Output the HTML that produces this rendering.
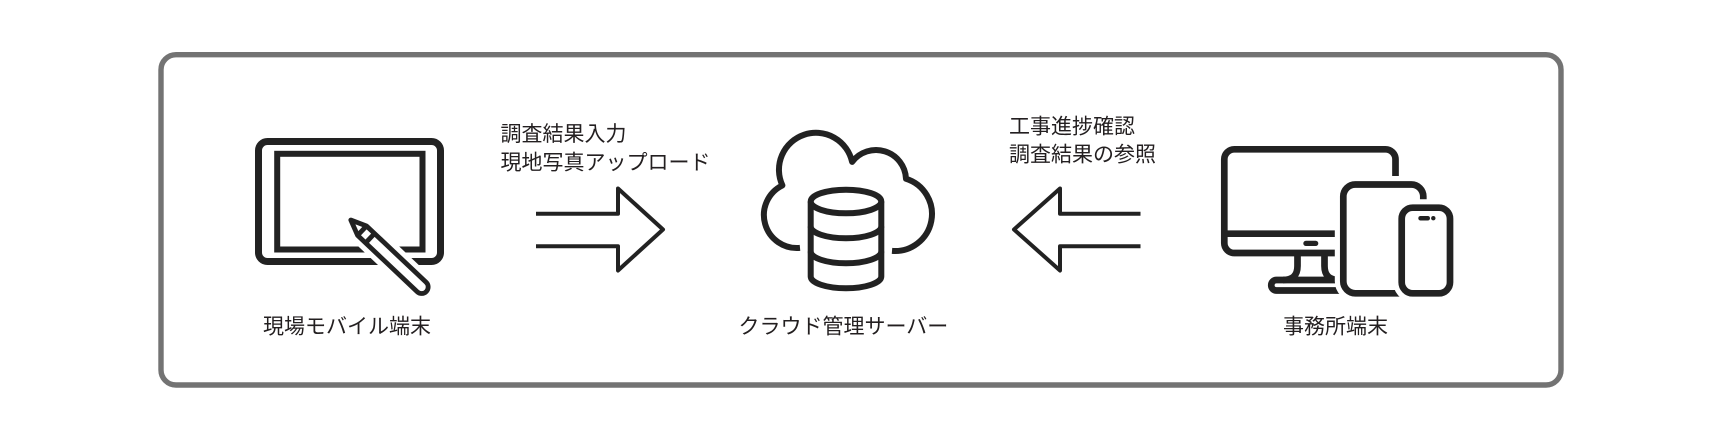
<!DOCTYPE html>
<html>
<head>
<meta charset="utf-8">
<style>
  html, body { margin: 0; padding: 0; background: #ffffff; }
  body { width: 1722px; height: 440px; overflow: hidden; }
  svg { display: block; }
  text { font-family: "Liberation Sans", "Noto Sans CJK JP", sans-serif; font-size: 21px; fill: #231f20; }
</style>
</head>
<body>
<svg width="1722" height="440" viewBox="0 0 1722 440" xmlns="http://www.w3.org/2000/svg">
  <rect x="0" y="0" width="1722" height="440" fill="#ffffff"/>

  <!-- outer frame -->
  <rect x="161" y="54.7" width="1400" height="330.3" rx="15" ry="15" fill="none" stroke="#737373" stroke-width="5.4"/>

  <!-- ===== Mobile tablet with pen ===== -->
  <g fill="none" stroke="#222" stroke-linecap="butt">
    <rect x="258.5" y="141.5" width="182" height="120" rx="9" ry="9" stroke-width="7"/>
    <rect x="277.2" y="153.8" width="145.3" height="95.7" stroke-width="6" stroke-linejoin="miter"/>
  </g>
  <g transform="translate(349,218.3) rotate(43.4)">
    <!-- white halo -->
    <path d="M2.5 0 L18 -6.5 L100 -6.5 A6.5 6.5 0 0 1 100 6.5 L18 6.5 Z" fill="#fff" stroke="#fff" stroke-width="15" stroke-linejoin="round"/>
    <path d="M2.5 0 L18 -6.5 L100 -6.5 A6.5 6.5 0 0 1 100 6.5 L18 6.5 Z" fill="#fff" stroke="#222" stroke-width="4.8" stroke-linejoin="round"/>
    <line x1="18" y1="-6.5" x2="18" y2="6.5" stroke="#222" stroke-width="4.8"/>
    <line x1="29" y1="-6.5" x2="29" y2="6.5" stroke="#222" stroke-width="4.8"/>
    <path d="M2.5 0 L8 -2.3 L8 2.3 Z" fill="#222" stroke="#222" stroke-width="2" stroke-linejoin="round"/>
  </g>

  <!-- labels left -->
  <text x="500.5" y="141">調査結果入力</text>
  <text x="500.5" y="169.5">現地写真アップロード</text>
  <text x="263" y="333.5">現場モバイル端末</text>

  <!-- right arrow -->
  <path d="M536 213.7 H618 V188.5 L663 229.5 L618 270.5 V246.3 H536" fill="none" stroke="#222" stroke-width="4" stroke-linejoin="round"/>

  <!-- ===== Cloud + database ===== -->
  <path d="M800 247.9 A33 33 0 0 1 782.4 185.4 A37 37 0 1 1 852.1 161.9 A30 30 0 0 1 906 178.7 A37 37 0 0 1 892 250.9"
        fill="none" stroke="#222" stroke-width="6" stroke-linecap="butt" stroke-linejoin="round"/>
  <g fill="none" stroke="#222" stroke-width="6">
    <ellipse cx="846" cy="201.5" rx="35.3" ry="11.8" fill="#fff"/>
    <path d="M810.7 201.5 V276.5 A35.3 11.8 0 0 0 881.3 276.5 V201.5"/>
    <path d="M810.7 226.5 A35.3 11.8 0 0 0 881.3 226.5"/>
    <path d="M810.7 251.5 A35.3 11.8 0 0 0 881.3 251.5"/>
  </g>
  <text x="738.5" y="333.5">クラウド管理サーバー</text>

  <!-- left arrow -->
  <path d="M1140.5 213.7 H1060 V188.5 L1014 229.5 L1060 270.5 V246.3 H1140.5" fill="none" stroke="#222" stroke-width="4" stroke-linejoin="round"/>
  <text x="1009" y="133.5">工事進捗確認</text>
  <text x="1009" y="161.5">調査結果の参照</text>

  <!-- ===== Office devices ===== -->
  <g fill="none" stroke="#222" stroke-width="6.7">
    <!-- monitor -->
    <rect x="1224.3" y="149.3" width="171.2" height="103.7" rx="10" ry="10"/>
    <line x1="1224.3" y1="233.7" x2="1395.5" y2="233.7"/>
    <!-- stand -->
    <path d="M1297.5 253 V266 Q1297.5 280 1283 280"/>
    <path d="M1324.5 253 V266 Q1324.5 280 1339 280"/>
    <path d="M1345 280 H1276.5 A5.25 5.25 0 0 0 1276.5 290.5 H1345"/>
  </g>
  <rect x="1303.3" y="240.7" width="15" height="5.3" rx="2.65" fill="#222"/>

  <!-- tablet -->
  <rect x="1343.3" y="184.5" width="80" height="108.8" rx="12" ry="12" fill="#fff" stroke="#fff" stroke-width="17"/>
  <rect x="1343.3" y="184.5" width="80" height="108.8" rx="12" ry="12" fill="#fff" stroke="#222" stroke-width="6.7"/>

  <!-- phone -->
  <rect x="1401.7" y="207.7" width="48.3" height="85.6" rx="11" ry="11" fill="#fff" stroke="#fff" stroke-width="17"/>
  <rect x="1401.7" y="207.7" width="48.3" height="85.6" rx="11" ry="11" fill="#fff" stroke="#222" stroke-width="6.7"/>
  <rect x="1418.3" y="216" width="11.7" height="4.5" rx="2.2" fill="#222"/>
  <circle cx="1433.3" cy="218.2" r="2.2" fill="#222"/>

  <text x="1283" y="333.5">事務所端末</text>
</svg>
</body>
</html>
